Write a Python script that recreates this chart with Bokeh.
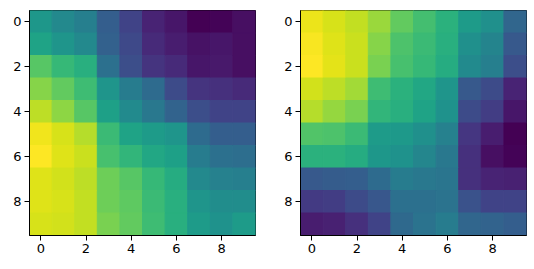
import numpy as np
from bokeh.plotting import figure
from bokeh.layouts import row
from bokeh.models import Range1d, FixedTicker, ColumnDataSource, LinearColorMapper
from bokeh.palettes import Viridis256
from bokeh.embed import file_html
from bokeh.resources import INLINE

ticks = [0, 2, 4, 6, 8]

left_values = [
    [0.53, 0.47, 0.43, 0.30, 0.20, 0.10, 0.06, 0.00, 0.01, 0.04],
    [0.58, 0.52, 0.47, 0.31, 0.22, 0.12, 0.08, 0.05, 0.06, 0.04],
    [0.74, 0.67, 0.63, 0.37, 0.24, 0.15, 0.12, 0.06, 0.07, 0.04],
    [0.82, 0.76, 0.69, 0.52, 0.42, 0.35, 0.23, 0.15, 0.14, 0.12],
    [0.90, 0.83, 0.74, 0.57, 0.48, 0.40, 0.32, 0.24, 0.20, 0.20],
    [0.98, 0.94, 0.89, 0.68, 0.58, 0.55, 0.52, 0.35, 0.30, 0.30],
    [1.00, 0.95, 0.92, 0.71, 0.66, 0.60, 0.57, 0.42, 0.37, 0.36],
    [0.95, 0.93, 0.90, 0.78, 0.74, 0.67, 0.62, 0.47, 0.44, 0.43],
    [0.95, 0.94, 0.91, 0.78, 0.75, 0.68, 0.63, 0.52, 0.49, 0.49],
    [0.94, 0.93, 0.91, 0.80, 0.76, 0.69, 0.63, 0.55, 0.51, 0.55],
]

right_values = [
    [0.97, 0.94, 0.91, 0.85, 0.76, 0.70, 0.64, 0.55, 0.50, 0.33],
    [0.99, 0.95, 0.92, 0.82, 0.72, 0.68, 0.63, 0.50, 0.45, 0.28],
    [1.00, 0.96, 0.92, 0.80, 0.71, 0.67, 0.62, 0.48, 0.43, 0.24],
    [0.93, 0.90, 0.86, 0.69, 0.64, 0.60, 0.52, 0.28, 0.23, 0.10],
    [0.89, 0.84, 0.80, 0.66, 0.63, 0.58, 0.51, 0.23, 0.18, 0.06],
    [0.73, 0.72, 0.68, 0.55, 0.54, 0.50, 0.44, 0.16, 0.08, 0.00],
    [0.64, 0.64, 0.62, 0.53, 0.51, 0.46, 0.40, 0.14, 0.04, 0.01],
    [0.28, 0.29, 0.30, 0.35, 0.42, 0.40, 0.39, 0.14, 0.10, 0.09],
    [0.17, 0.18, 0.23, 0.27, 0.37, 0.37, 0.38, 0.25, 0.20, 0.20],
    [0.08, 0.09, 0.14, 0.20, 0.34, 0.38, 0.42, 0.33, 0.32, 0.30],
]


def make_panel(values, left_border, right_border, total_width):
    arr = np.array(values)
    nrows, ncols = arr.shape
    xs, ys, vs = [], [], []
    for r in range(nrows):
        for c in range(ncols):
            xs.append(c)
            ys.append(r)
            vs.append(float(arr[r, c]))
    src = ColumnDataSource(dict(x=xs, y=ys, v=vs))
    mapper = LinearColorMapper(palette=Viridis256, low=float(arr.min()), high=float(arr.max()))
    p = figure(width=total_width, height=269, output_backend="svg", toolbar_location=None,
               x_range=Range1d(-0.5, ncols - 0.5), y_range=Range1d(nrows - 0.5, -0.5),
               min_border_left=left_border, min_border_right=right_border,
               min_border_top=10, min_border_bottom=34)
    p.rect(x="x", y="y", width=1, height=1, source=src,
           fill_color={"field": "v", "transform": mapper},
           line_color={"field": "v", "transform": mapper}, line_width=1)
    p.xgrid.visible = False
    p.ygrid.visible = False
    p.outline_line_color = "black"
    p.outline_line_width = 1
    p.outline_line_alpha = 1
    p.background_fill_color = "white"
    p.border_fill_color = "white"
    for ax in (p.xaxis[0], p.yaxis[0]):
        ax.ticker = FixedTicker(ticks=ticks)
        ax.minor_tick_line_color = None
        ax.major_tick_in = 0
        ax.major_tick_out = 5
        ax.major_tick_line_color = "black"
        ax.axis_line_color = "black"
        ax.major_label_text_font = "DejaVu Sans"
        ax.major_label_text_font_size = "13px"
        ax.major_label_text_color = "black"
        ax.major_label_standoff = 3
    return p


p1 = make_panel(left_values, 29, 12, 267)
p2 = make_panel(right_values, 33, 8, 267)
p = row(p1, p2)

open("out.html", "w").write(file_html(p, INLINE))
